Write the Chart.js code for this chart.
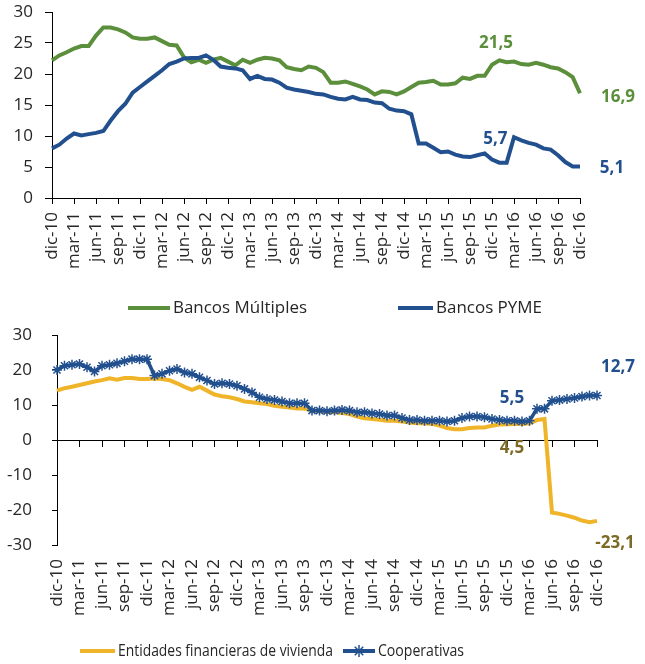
<!DOCTYPE html>
<html>
<head>
<meta charset="utf-8">
<script src="https://cdn.jsdelivr.net/npm/chart.js@4.4.1/dist/chart.umd.min.js"></script>
<style>
  html, body { margin: 0; padding: 0; background: #fff; }
  canvas { position: absolute; left: 0; }
  #top { top: 0; }
  #bottom { top: 320px; }
</style>
</head>
<body>
<canvas id="top" width="645" height="320"></canvas>
<canvas id="bottom" width="645" height="344"></canvas>
<script>
// quarterly tick labels, monthly data dic-10 .. dic-16 (73 points)
const tickLabels = [
  "dic-10", "mar-11", "jun-11", "sep-11", "dic-11", "mar-12", "jun-12", "sep-12", "dic-12",
  "mar-13", "jun-13", "sep-13", "dic-13", "mar-14", "jun-14", "sep-14", "dic-14",
  "mar-15", "jun-15", "sep-15", "dic-15", "mar-16", "jun-16", "sep-16", "dic-16"
];

const bancosMultiples = [
  22.2, 23.0, 23.5, 24.1, 24.5, 24.5, 26.2, 27.5, 27.5, 27.2, 26.7, 25.9,
  25.7, 25.7, 25.9, 25.3, 24.7, 24.6, 22.7, 21.9, 22.3, 21.8, 22.3, 22.6,
  22.0, 21.4, 22.3, 21.8, 22.3, 22.6, 22.5, 22.2, 21.1, 20.8, 20.6, 21.2,
  21.0, 20.3, 18.6, 18.6, 18.8, 18.4, 18.0, 17.5, 16.7, 17.2, 17.1, 16.7,
  17.2, 17.9, 18.6, 18.7, 18.9, 18.3, 18.3, 18.5, 19.4, 19.2, 19.7, 19.7,
  21.5, 22.2, 21.9, 22.0, 21.6, 21.5, 21.8, 21.5, 21.1, 20.9, 20.3, 19.5,
  16.9
];

const bancosPyme = [
  8.0, 8.6, 9.6, 10.4, 10.1, 10.3, 10.5, 10.8, 12.5, 14.0, 15.2, 17.0,
  17.9, 18.8, 19.7, 20.6, 21.6, 22.0, 22.5, 22.6, 22.6, 23.0, 22.3, 21.2,
  21.0, 20.9, 20.6, 19.2, 19.7, 19.2, 19.1, 18.6, 17.8, 17.5, 17.3, 17.1,
  16.8, 16.7, 16.3, 16.0, 15.9, 16.3, 15.9, 15.8, 15.4, 15.3, 14.4, 14.1,
  14.0, 13.5, 8.8, 8.8, 8.1, 7.4, 7.5, 7.0, 6.7, 6.6, 6.9, 7.2,
  6.2, 5.7, 5.7, 9.8, 9.3, 8.9, 8.6, 8.0, 7.8, 6.9, 5.8, 5.1,
  5.1
];

const entidadesVivienda = [
  14.1, 14.8, 15.2, 15.7, 16.2, 16.7, 17.1, 17.6, 17.2, 17.7, 17.7, 17.4,
  17.4, 17.6, 17.4, 17.1, 16.2, 15.2, 14.3, 15.2, 14.1, 13.0, 12.5, 12.2,
  11.7, 11.0, 10.8, 10.5, 10.3, 9.8, 9.5, 9.3, 9.0, 9.0, 8.4, 8.2,
  8.1, 7.9, 7.7, 7.4, 6.7, 6.2, 6.0, 5.8, 5.5, 5.5, 5.3, 5.0,
  4.8, 4.8, 4.6, 4.1, 3.4, 3.1, 3.1, 3.4, 3.6, 3.6, 4.1, 4.4,
  4.5, 4.6, 4.6, 4.8, 5.7, 6.0, -20.7, -21.1, -21.6, -22.2, -23.0, -23.5,
  -23.1
];

const cooperativas = [
  20.0, 21.2, 21.5, 21.7, 20.8, 19.6, 21.2, 21.5, 21.9, 22.5, 23.1, 23.1,
  23.1, 18.4, 18.9, 19.8, 20.3, 19.3, 18.9, 17.9, 17.0, 16.0, 16.2, 16.0,
  15.5, 14.6, 13.6, 12.2, 11.7, 11.4, 11.0, 10.5, 10.5, 10.5, 8.4, 8.4,
  8.2, 8.4, 8.6, 8.4, 7.9, 7.9, 7.6, 7.4, 7.0, 7.0, 6.3, 5.7,
  5.7, 5.5, 5.5, 5.5, 5.3, 5.5, 6.3, 6.7, 6.7, 6.5, 6.0, 5.7,
  5.5, 5.5, 5.3, 5.5, 8.9, 8.9, 11.2, 11.4, 11.7, 12.0, 12.4, 12.7,
  12.7
];

const GREEN = "#5B8F3C";
const BLUE = "#22508F";
const YELLOW = "#F0B429";
const OLIVE = "#7D6A26";
const TEXT = "#262626";
const FONT = "'Open Sans', 'Noto Sans', sans-serif";

Chart.defaults.font.family = FONT;
Chart.defaults.font.size = 17;
Chart.defaults.color = TEXT;

function toPoints(values) {
  return values.map((v, i) => ({ x: i, y: v }));
}

function fmt(v) {
  return v.toFixed(1).replace(".", ",");
}

function drawStar(ctx, x, y, r, color) {
  ctx.save();
  ctx.strokeStyle = color;
  ctx.lineWidth = 1.5;
  ctx.beginPath();
  for (let k = 0; k < 4; k++) {
    const a = k * Math.PI / 4;
    ctx.moveTo(x - r * Math.cos(a), y - r * Math.sin(a));
    ctx.lineTo(x + r * Math.cos(a), y + r * Math.sin(a));
  }
  ctx.stroke();
  ctx.restore();
}

// value labels + legend drawn on top of the chart
const extras = {
  id: "extras",
  afterDraw(chart, args, opts) {
    const ctx = chart.ctx;
    ctx.save();
    ctx.textBaseline = "middle";
    (opts.labels || []).forEach(l => {
      const pt = chart.getDatasetMeta(l.dataset).data[l.index];
      const value = chart.data.datasets[l.dataset].data[l.index].y;
      ctx.font = "bold 17px " + FONT;
      ctx.fillStyle = l.color;
      ctx.textAlign = "center";
      ctx.fillText(fmt(value), pt.x + l.dx, pt.y + l.dy);
    });
    (opts.legend || []).forEach(item => {
      const ds = chart.data.datasets[item.dataset];
      ctx.strokeStyle = ds.borderColor;
      ctx.lineWidth = 4;
      ctx.beginPath();
      ctx.moveTo(item.x1, item.y);
      ctx.lineTo(item.x2, item.y);
      ctx.stroke();
      if (ds.pointStyle === "star") {
        drawStar(ctx, (item.x1 + item.x2) / 2, item.y, 6, ds.borderColor);
      }
      ctx.font = "17px " + FONT;
      ctx.fillStyle = TEXT;
      ctx.textAlign = "left";
      ctx.fillText(ds.label, item.x2 + 3, item.y, item.w);
    });
    ctx.restore();
  }
};

const xTicks = {
  stepSize: 3,
  autoSkip: false,
  minRotation: 90,
  maxRotation: 90,
  callback: v => tickLabels[v / 3]
};

// fixed y-axis width, no extra label padding above/below the plot
function fixY(width) {
  return s => {
    s.width = width;
    s.paddingTop = 0;
    s.paddingBottom = 0;
  };
}

new Chart(document.getElementById("top"), {
  type: "line",
  data: {
    datasets: [
      {
        label: "Bancos Múltiples",
        data: toPoints(bancosMultiples),
        borderColor: GREEN,
        borderWidth: 4,
        pointRadius: 0,
        tension: 0,
        order: 1,
        clip: 6
      },
      {
        label: "Bancos PYME",
        data: toPoints(bancosPyme),
        borderColor: BLUE,
        borderWidth: 4,
        pointRadius: 0,
        tension: 0,
        order: 0,
        clip: 6
      }
    ]
  },
  options: {
    responsive: false,
    animation: false,
    events: [],
    layout: { padding: { left: 0, top: 12, right: 65, bottom: 52 } },
    plugins: {
      legend: { display: false },
      tooltip: { enabled: false },
      extras: {
        labels: [
          { dataset: 0, index: 60, color: GREEN, dx: 4, dy: -22 },
          { dataset: 0, index: 72, color: GREEN, dx: 38, dy: 4 },
          { dataset: 1, index: 61, color: BLUE, dx: -4, dy: -24 },
          { dataset: 1, index: 72, color: BLUE, dx: 32, dy: 2 }
        ],
        legend: [
          { dataset: 0, x1: 128, x2: 170, y: 308, w: 134 },
          { dataset: 1, x1: 398, x2: 433, y: 308, w: 106 }
        ]
      }
    },
    scales: {
      x: {
        type: "linear",
        min: 0,
        max: 72,
        afterFit: s => { s.height = 70; },
        border: { color: "#000", width: 1 },
        grid: { drawOnChartArea: false, tickLength: 6, color: "#000" },
        ticks: Object.assign({ padding: 8 }, xTicks)
      },
      y: {
        min: 0,
        max: 30,
        afterFit: fixY(52),
        border: { color: "#000", width: 1 },
        grid: { drawOnChartArea: false, tickLength: 7, color: "#000" },
        ticks: { stepSize: 5, padding: 12 }
      }
    }
  },
  plugins: [extras]
});

new Chart(document.getElementById("bottom"), {
  type: "line",
  data: {
    datasets: [
      {
        label: "Entidades financieras de vivienda",
        data: toPoints(entidadesVivienda),
        borderColor: YELLOW,
        borderWidth: 4,
        pointRadius: 0,
        tension: 0,
        order: 1,
        clip: 8
      },
      {
        label: "Cooperativas",
        data: toPoints(cooperativas),
        borderColor: BLUE,
        borderWidth: 3.5,
        pointStyle: "star",
        pointRadius: 5,
        pointBorderWidth: 1.5,
        pointBorderColor: BLUE,
        pointBackgroundColor: BLUE,
        tension: 0,
        order: 0,
        clip: 8
      }
    ]
  },
  options: {
    responsive: false,
    animation: false,
    events: [],
    layout: { padding: { left: 0, top: 15, right: 48, bottom: 49 } },
    plugins: {
      legend: { display: false },
      tooltip: { enabled: false },
      extras: {
        labels: [
          { dataset: 1, index: 72, color: BLUE, dx: 21, dy: -28 },
          { dataset: 1, index: 60, color: BLUE, dx: 5, dy: -23 },
          { dataset: 0, index: 60, color: OLIVE, dx: 5, dy: 24 },
          { dataset: 0, index: 72, color: OLIVE, dx: 18, dy: 22 }
        ],
        legend: [
          { dataset: 0, x1: 80, x2: 115, y: 331, w: 215 },
          { dataset: 1, x1: 343, x2: 375, y: 331, w: 86 }
        ]
      }
    },
    scales: {
      x: {
        type: "linear",
        min: 0,
        max: 72,
        position: { y: 0 },
        afterFit: s => { s.height = 0; },
        border: { color: "#000", width: 1 },
        grid: { drawOnChartArea: false, tickLength: 6, color: "#000" },
        ticks: { stepSize: 3, display: false }
      },
      xl: {
        type: "linear",
        axis: "x",
        position: "bottom",
        min: 0,
        max: 72,
        afterFit: s => { s.height = 70; },
        border: { display: false },
        grid: { display: false, drawTicks: false },
        ticks: Object.assign({ padding: 14 }, xTicks)
      },
      y: {
        min: -30,
        max: 30,
        afterFit: fixY(57),
        border: { color: "#000", width: 1 },
        grid: { drawOnChartArea: false, tickLength: 5, color: "#000" },
        ticks: { stepSize: 10, padding: 20 }
      }
    }
  },
  plugins: [extras]
});
</script>
</body>
</html>
